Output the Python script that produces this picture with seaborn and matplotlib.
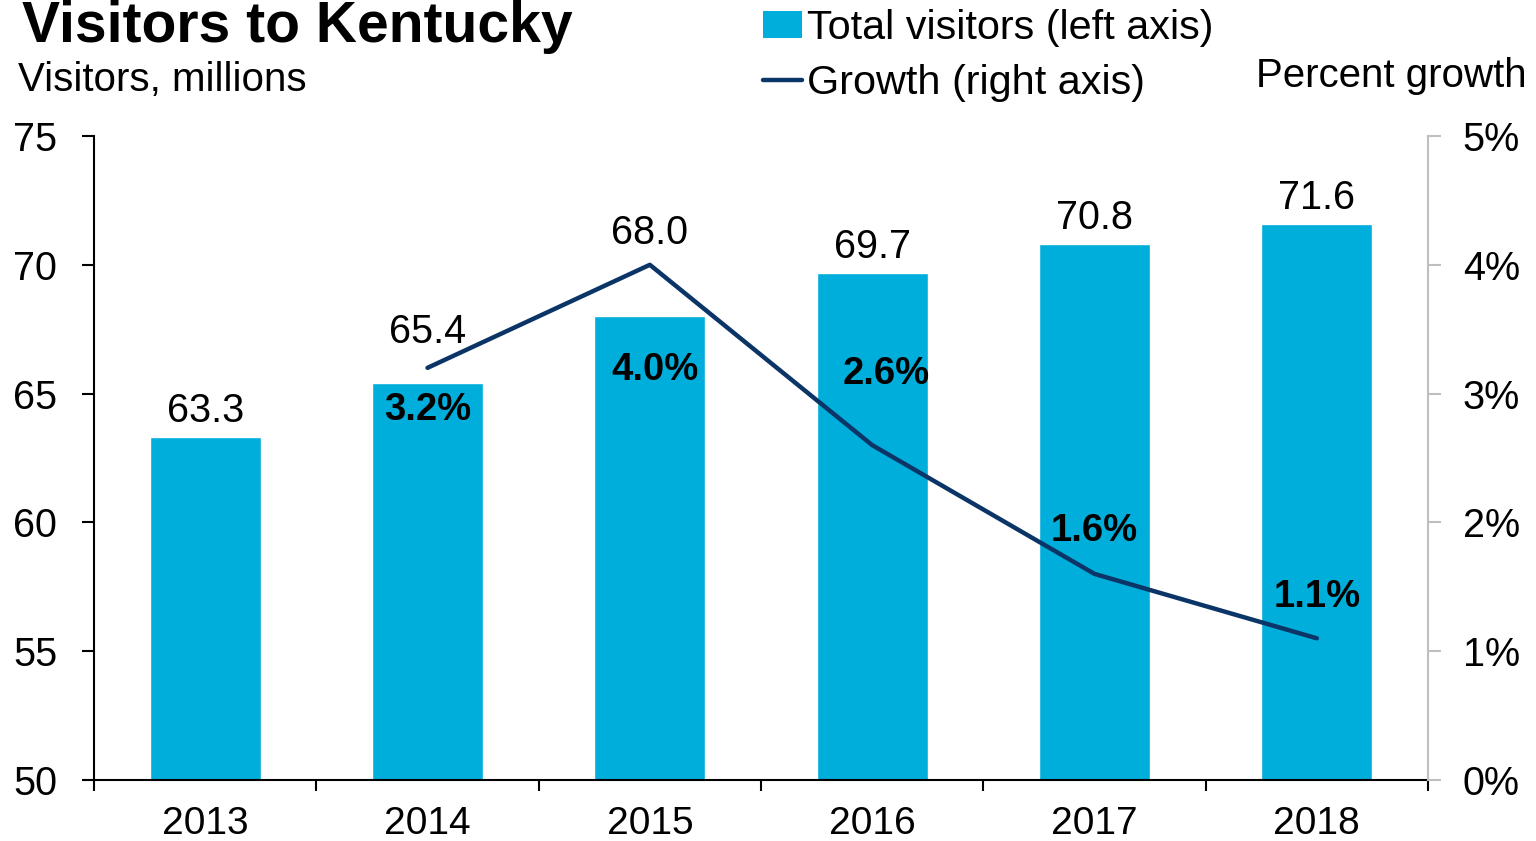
import matplotlib
matplotlib.use("Agg")
import matplotlib.pyplot as plt
from matplotlib.lines import Line2D
from matplotlib.patches import Patch
from matplotlib.ticker import FixedLocator, FuncFormatter
import numpy as np
import pandas as pd
import seaborn as sns

years = ["2013", "2014", "2015", "2016", "2017", "2018"]
visitors = [63.3, 65.4, 68.0, 69.7, 70.8, 71.6]
growth_years = ["2014", "2015", "2016", "2017", "2018"]
growth = [3.2, 4.0, 2.6, 1.6, 1.1]
left_ticks = [50, 55, 60, 65, 70, 75]
right_ticks = [0, 1, 2, 3, 4, 5]

# label offsets (points) — style only
growth_offsets = [(0, -30), (4, -76), (10, 51), (0, 31), (0, 30)]
value_pads = [5, 23, 46, 5, 5, 5]

BAR = "#00AEDB"
LINE = "#0B3467"

sns.set_theme(style="white")
plt.rcParams["font.family"] = ["Liberation Sans", "DejaVu Sans"]
plt.rcParams["text.color"] = "black"
plt.rcParams["xtick.color"] = "black"
plt.rcParams["ytick.color"] = "black"

fig = plt.figure(figsize=(15.36, 8.41), dpi=100)
ax = fig.add_axes([94/1536, 1-780/841, (1428-94)/1536, (780-136)/841])

df = pd.DataFrame({"year": years, "visitors": visitors})
sns.barplot(data=df, x="year", y="visitors", order=years, color=BAR,
            width=0.5, saturation=1, ax=ax)
ax.set_ylim(50, 75)
ax.set_xlim(-0.5, len(years) - 0.5)
ax.set_xlabel("")
ax.set_ylabel("")
ax.yaxis.set_major_locator(FixedLocator(left_ticks))
ax.set_yticklabels([str(t) for t in left_ticks])
ax.tick_params(axis="y", which="major", direction="out", length=8.5, width=1.5,
               color="black", labelsize=28.5, pad=18, left=True)
ax.tick_params(axis="x", which="major", length=0, labelsize=28, pad=19)
ax.xaxis.set_minor_locator(FixedLocator(np.arange(len(years) + 1) - 0.5))
ax.tick_params(axis="x", which="minor", direction="out", length=8, width=1.5,
               color="black", bottom=True)
for s in ["top", "right"]:
    ax.spines[s].set_visible(False)
for s in ["left", "bottom"]:
    ax.spines[s].set_color("black")
    ax.spines[s].set_linewidth(1.5)

ax2 = ax.twinx()
gx = [years.index(y) for y in growth_years]
gdf = pd.DataFrame({"x": gx, "growth": growth})
sns.lineplot(data=gdf, x="x", y="growth", color=LINE, linewidth=3.2, ax=ax2)
ax2.set_ylim(0, 5)
ax2.set_ylabel("")
ax2.set_xlabel("")
ax2.yaxis.set_major_locator(FixedLocator(right_ticks))
ax2.yaxis.set_major_formatter(FuncFormatter(lambda v, p: f"{v:.0f}%"))
ax2.tick_params(axis="y", which="major", direction="out", length=9, width=1.5,
                color="#BFBFBF", labelcolor="black", labelsize=28.5, pad=16, right=True)
for s in ["top", "left", "bottom"]:
    ax2.spines[s].set_visible(False)
ax2.spines["right"].set_color("#BFBFBF")
ax2.spines["right"].set_linewidth(1.5)
ax2.set_xlim(-0.5, len(years) - 0.5)

for c in ax.containers:
    for rect, v, pad in zip(c.patches, visitors, value_pads):
        ax.annotate(f"{v:.1f}", (rect.get_x() + rect.get_width() / 2, rect.get_height()),
                    xytext=(0, pad), textcoords="offset points", ha="center",
                    va="bottom", fontsize=28.5, color="black", zorder=10)

for x, g, off in zip(gx, growth, growth_offsets):
    ax2.annotate(f"{g:.1f}%", (x, g), xytext=off, textcoords="offset points",
                 ha="center", va="center", fontsize=27.5, fontweight="bold",
                 color="black")

fig.text(22/1536, 1-27/841, "Visitors to Kentucky", fontsize=41, fontweight="bold",
         ha="left", va="center")
fig.text(18/1536, 1-80/841, "Visitors, millions", fontsize=29, ha="left", va="center")
fig.text(1527/1536, 1-76/841, "Percent growth", fontsize=29, ha="right", va="center")

handles = [Patch(facecolor=BAR, edgecolor="none"),
           Line2D([0], [0], color=LINE, linewidth=3.2, solid_capstyle="round")]
fig.legend(handles, ["Total visitors (left axis)", "Growth (right axis)"],
           loc="upper left", bbox_to_anchor=(746/1536, 1.009), frameon=False,
           fontsize=29.8, handlelength=0.96, handleheight=0.6, handletextpad=0.12,
           labelspacing=0.4, borderaxespad=0)

fig.savefig("out.png", dpi=100)
